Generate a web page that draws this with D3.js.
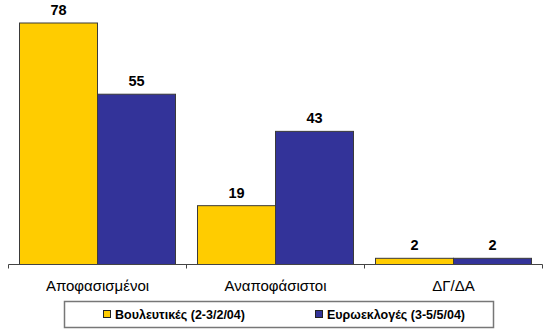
<!DOCTYPE html>
<html>
<head>
<meta charset="utf-8">
<script src="https://cdn.jsdelivr.net/npm/d3@7"></script>
<style>
  html, body { margin: 0; padding: 0; background: #fff; }
  svg { display: block; }
</style>
</head>
<body>
<svg id="chart" width="550" height="333"></svg>
<script>
const categories = ["Αποφασισμένοι", "Αναποφάσιστοι", "ΔΓ/ΔΑ"];
const seriesNames = ["Βουλευτικές (2-3/2/04)", "Ευρωεκλογές (3-5/5/04)"];
const seriesColors = ["#FFCC00", "#333399"];
const vouleftikes = [78, 19, 2];
const evroekloges = [55, 43, 2];

const series = [vouleftikes, evroekloges];
const font = "Arial, 'Liberation Sans', sans-serif";

const svg = d3.select("#chart");
const left = 8.5, right = 542.5, baseY = 264.5;

const x = d3.scaleBand().domain(categories).range([left, right]).paddingInner(0).paddingOuter(0);
const inner = d3.scaleBand().domain(d3.range(series.length)).range([11, x.bandwidth() - 11]);
const y = d3.scaleLinear().domain([0, 78]).range([baseY, 23]);

// bars and their value labels
series.forEach((vals, si) => {
  svg.append("g").selectAll("rect").data(vals).join("rect")
    .attr("x", (d, i) => x(categories[i]) + inner(si))
    .attr("y", d => y(d))
    .attr("width", inner.bandwidth())
    .attr("height", d => baseY - y(d))
    .attr("fill", seriesColors[si])
    .attr("stroke", "#3a3a3a")
    .attr("stroke-width", 1);

  svg.append("g").selectAll("text").data(vals).join("text")
    .attr("x", (d, i) => x(categories[i]) + inner(si) + inner.bandwidth() / 2)
    .attr("y", d => y(d) - 8)
    .attr("text-anchor", "middle")
    .attr("font-family", font)
    .attr("font-weight", "bold")
    .attr("font-size", 14.5)
    .attr("fill", "#000")
    .text(d => d);
});

// category axis
const gx = svg.append("g").attr("transform", `translate(0,${baseY})`);
gx.append("path").attr("stroke", "#444").attr("fill", "none").attr("d", `M${left},0H${right}`);
// ticks at band boundaries
const bounds = categories.map(c => x(c)).concat([x(categories[categories.length - 1]) + x.bandwidth()]);
gx.selectAll("line.b").data(bounds).join("line")
  .attr("class", "b")
  .attr("x1", d => d).attr("x2", d => d)
  .attr("y1", 0).attr("y2", 4)
  .attr("stroke", "#444");

svg.append("g").selectAll("text").data(categories).join("text")
  .attr("x", d => x(d) + x.bandwidth() / 2)
  .attr("y", 291)
  .attr("text-anchor", "middle")
  .attr("font-family", font)
  .attr("font-size", 15)
  .attr("fill", "#000")
  .text(d => d);

// legend
const lg = svg.append("g");
lg.append("rect")
  .attr("x", 64.5).attr("y", 301.5)
  .attr("width", 429).attr("height", 26)
  .attr("fill", "#fff")
  .attr("stroke", "#777")
  .attr("stroke-width", 1.5);

const legendX = [103, 315];
seriesNames.forEach((name, i) => {
  lg.append("rect")
    .attr("x", legendX[i] + 0.5).attr("y", 310.5)
    .attr("width", 7).attr("height", 7)
    .attr("fill", seriesColors[i])
    .attr("stroke", "#222");
  lg.append("text")
    .attr("x", legendX[i] + 12)
    .attr("y", 319)
    .attr("font-family", font)
    .attr("font-weight", "bold")
    .attr("font-size", 12.5)
    .attr("fill", "#000")
    .text(name);
});
</script>
</body>
</html>
